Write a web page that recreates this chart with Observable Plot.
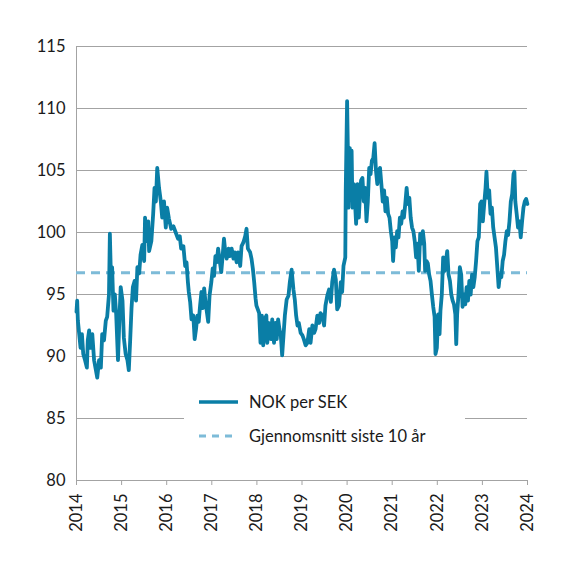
<!DOCTYPE html>
<html><head><meta charset="utf-8">
<script src="https://cdn.jsdelivr.net/npm/d3@7"></script>
<script src="https://cdn.jsdelivr.net/npm/@observablehq/plot@0.6"></script>
<style>
body{margin:0;background:#fff;}
#wrap{position:relative;width:576px;height:568px;font-family:Lato,"Noto Sans",sans-serif;color:#1a1a1a;}
#legend{position:absolute;left:184px;top:388px;width:281px;height:64px;background:#fff;font-size:16.5px;}
.item{position:absolute;left:15px;height:24px;display:flex;align-items:center;}
.item svg{margin-right:11px;}
</style></head><body><div id="wrap"></div>
<script>
const years = [2014,2015,2016,2017,2018,2019,2020,2021,2022,2023,2024];
const yTicks = [80,85,90,95,100,105,110,115];
const seriesName = "NOK per SEK";
const averageName = "Gjennomsnitt siste 10 år";
const average = 96.75;
const dates = [
2014.00,2014.015,2014.03,2014.06,2014.09,2014.12,2014.15,2014.19,2014.23,2014.25,2014.28,2014.31,2014.35,2014.39,2014.42,2014.46,2014.50,2014.54,2014.57,2014.61,2014.65,2014.68,2014.72,2014.74,2014.76,2014.79,2014.82,2014.85,2014.88,2014.92,2014.95,2014.98,
2015.02,2015.05,2015.09,2015.13,2015.16,2015.19,2015.22,2015.25,2015.29,2015.32,2015.35,2015.39,2015.42,2015.46,2015.50,2015.52,2015.56,2015.59,2015.61,2015.66,2015.70,2015.73,2015.76,2015.79,2015.83,2015.87,2015.90,2015.94,2015.98,
2016.01,2016.05,2016.10,2016.15,2016.20,2016.25,2016.29,2016.32,2016.37,2016.41,2016.44,2016.47,2016.49,2016.52,2016.55,2016.59,2016.62,2016.65,2016.68,2016.71,2016.74,2016.77,2016.80,2016.83,2016.86,2016.89,2016.92,2016.95,2016.99,
2017.02,2017.05,2017.08,2017.11,2017.14,2017.18,2017.21,2017.24,2017.27,2017.30,2017.33,2017.37,2017.40,2017.44,2017.48,2017.51,2017.55,2017.58,2017.63,2017.66,2017.70,2017.74,2017.77,2017.80,2017.85,2017.88,2017.91,2017.94,2017.97,2017.99,
2018.05,2018.08,2018.11,2018.14,2018.17,2018.21,2018.23,2018.27,2018.31,2018.34,2018.38,2018.41,2018.44,2018.47,2018.50,2018.53,2018.56,2018.59,2018.62,2018.66,2018.70,2018.73,2018.77,2018.81,2018.84,2018.87,2018.90,2018.93,2018.97,
2019.01,2019.04,2019.08,2019.12,2019.16,2019.19,2019.23,2019.27,2019.30,2019.34,2019.38,2019.41,2019.45,2019.49,2019.52,2019.56,2019.60,2019.64,2019.67,2019.71,2019.75,2019.78,2019.82,2019.86,2019.89,2019.92,2019.96,2019.97,
2020.00,2020.02,2020.03,2020.06,2020.08,2020.10,2020.12,2020.15,2020.17,2020.20,2020.23,2020.26,2020.29,2020.31,2020.34,2020.37,2020.40,2020.43,2020.46,2020.49,2020.52,2020.55,2020.58,2020.61,2020.64,2020.67,2020.70,2020.73,2020.76,2020.79,2020.82,2020.85,2020.88,2020.91,2020.94,2020.97,
2021.00,2021.02,2021.05,2021.08,2021.11,2021.14,2021.17,2021.20,2021.23,2021.26,2021.29,2021.32,2021.35,2021.38,2021.41,2021.44,2021.47,2021.50,2021.53,2021.56,2021.59,2021.62,2021.65,2021.68,2021.71,2021.73,2021.76,2021.79,2021.82,2021.85,2021.88,2021.91,2021.94,2021.96,2021.99,
2022.02,2022.05,2022.07,2022.10,2022.13,2022.16,2022.19,2022.22,2022.25,2022.28,2022.31,2022.34,2022.37,2022.40,2022.42,2022.44,2022.47,2022.50,2022.53,2022.56,2022.59,2022.62,2022.65,2022.68,2022.71,2022.74,2022.77,2022.80,2022.83,2022.86,2022.89,2022.92,2022.95,2022.98,
2023.01,2023.04,2023.07,2023.09,2023.12,2023.15,2023.18,2023.21,2023.24,2023.27,2023.30,2023.33,2023.36,2023.39,2023.42,2023.45,2023.48,2023.51,2023.54,2023.57,2023.60,2023.63,2023.66,2023.69,2023.71,2023.73,2023.76,2023.79,2023.82,2023.85,2023.88,2023.91,2023.94,2023.97,2023.997
];
const values = [
93.6,94.5,92.9,91.8,90.7,91.8,90.2,89.7,89.1,91.3,92.1,90.7,91.8,89.7,89.1,88.3,89.7,89.1,91.8,91.3,92.9,93.2,95.0,99.9,96.9,97.2,93.7,95.0,93.4,89.7,92.9,95.6,
94.5,91.5,90.2,89.7,88.9,91.3,93.9,95.6,96.1,94.5,97.2,96.7,98.2,99.0,97.7,101.2,99.3,100.9,98.5,99.3,101.5,103.6,102.5,105.2,103.6,102.5,101.2,102.5,100.4,
102.0,101.1,100.3,100.5,100.0,99.5,99.7,98.7,98.9,97.3,97.6,96.0,95.2,94.4,93.0,93.3,91.4,92.2,93.3,92.8,94.1,95.2,93.9,95.5,94.4,93.6,92.8,94.9,96.0,
97.1,96.5,98.1,97.6,98.7,97.6,96.8,98.1,99.5,98.4,97.9,98.7,98.1,98.7,97.9,98.4,97.6,98.4,97.3,98.9,99.2,99.7,100.3,98.7,98.4,97.9,97.1,96.0,94.7,94.1,
93.5,91.1,93.3,90.9,93.0,93.3,91.1,92.7,91.4,93.0,91.1,92.7,91.4,93.0,92.2,91.7,90.1,91.7,93.3,94.6,94.9,96.0,97.0,95.4,94.6,93.3,92.5,92.7,91.9,
91.7,91.4,90.9,91.1,92.2,91.1,92.5,91.9,92.2,93.3,92.7,93.5,93.3,92.5,94.1,94.9,95.4,94.4,96.0,97.0,96.2,93.8,94.1,96.0,95.2,97.3,98.0,103.4,
110.6,106.0,102.0,106.8,104.4,106.6,102.0,103.9,102.8,100.7,103.9,101.2,103.4,104.2,104.4,102.5,103.6,100.9,102.5,105.2,104.7,105.8,106.0,107.2,105.0,103.9,105.0,105.2,103.9,102.5,103.4,101.7,102.8,101.5,101.2,100.1,
99.3,97.7,99.6,98.8,100.1,99.6,101.2,100.7,101.7,101.2,102.3,103.6,102.3,102.8,101.2,100.4,100.1,99.3,98.0,99.1,96.9,99.9,99.1,100.1,99.1,96.9,97.7,97.5,96.6,96.1,95.0,94.0,93.2,90.2,90.7,
93.4,91.8,93.7,95.0,98.0,96.9,97.7,98.5,96.6,96.1,95.0,94.5,94.2,93.4,91.0,93.4,95.0,97.2,96.6,94.0,95.0,94.2,95.6,94.5,96.1,95.0,96.6,95.6,96.4,97.7,99.3,99.6,102.3,102.5,
100.9,102.3,103.6,104.9,102.8,103.4,101.5,102.0,100.4,99.6,98.8,97.2,95.6,96.6,96.4,97.7,98.2,99.3,100.1,99.8,100.9,102.5,103.1,104.7,104.9,102.5,101.5,100.4,100.9,99.6,100.9,102.0,102.5,102.7,102.3
];
const data = dates.map((d, i) => ({date: d, value: values[i]}));
const lineColor = "#0a7ea6", avgColor = "#7dbbd8", gridColor = "#a3a3a3";

const chart = Plot.plot({
  width: 576, height: 568,
  marginLeft: 76, marginRight: 49, marginTop: 46, marginBottom: 88,
  style: {fontFamily: 'Lato, "Noto Sans", sans-serif', fontSize: "16.5px", color: "#1a1a1a", background: "#fff"},
  x: {domain: [2014, 2024], axis: null, label: null},
  y: {domain: [80, 115], axis: null, label: null},
  marks: [
    Plot.gridY(yTicks, {stroke: gridColor, strokeOpacity: 1, strokeWidth: 1}),
    Plot.ruleX([2014], {stroke: gridColor, strokeWidth: 1}),
    Plot.ruleY([80], {stroke: gridColor, strokeWidth: 1}),
    Plot.axisY(yTicks, {tickSize: 0, tickPadding: 11, fontSize: 16.5, label: null}),
    Plot.axisX(years, {tickSize: 5, tickRotate: -90, tickPadding: 8, stroke: gridColor, tickFormat: d => String(d), fontSize: 16.5, label: null}),
    Plot.ruleY([average], {stroke: avgColor, strokeWidth: 3, strokeDasharray: "9,6"}),
    Plot.line(data, {x: "date", y: "value", stroke: lineColor, strokeWidth: 3.8, strokeLinejoin: "round"})
  ]
});
const wrap = document.getElementById("wrap");
wrap.appendChild(chart);
const legend = document.createElement("div");
legend.id = "legend";
legend.innerHTML = `
<div class="item" style="top:2px"><svg width="39" height="6"><line x1="0" y1="3" x2="39" y2="3" stroke="${lineColor}" stroke-width="3.5"/></svg><span>${seriesName}</span></div>
<div class="item" style="top:36px"><svg width="39" height="6"><line x1="0" y1="3" x2="39" y2="3" stroke="${avgColor}" stroke-width="3" stroke-dasharray="7,6"/></svg><span>${averageName}</span></div>`;
wrap.appendChild(legend);
</script></body></html>
